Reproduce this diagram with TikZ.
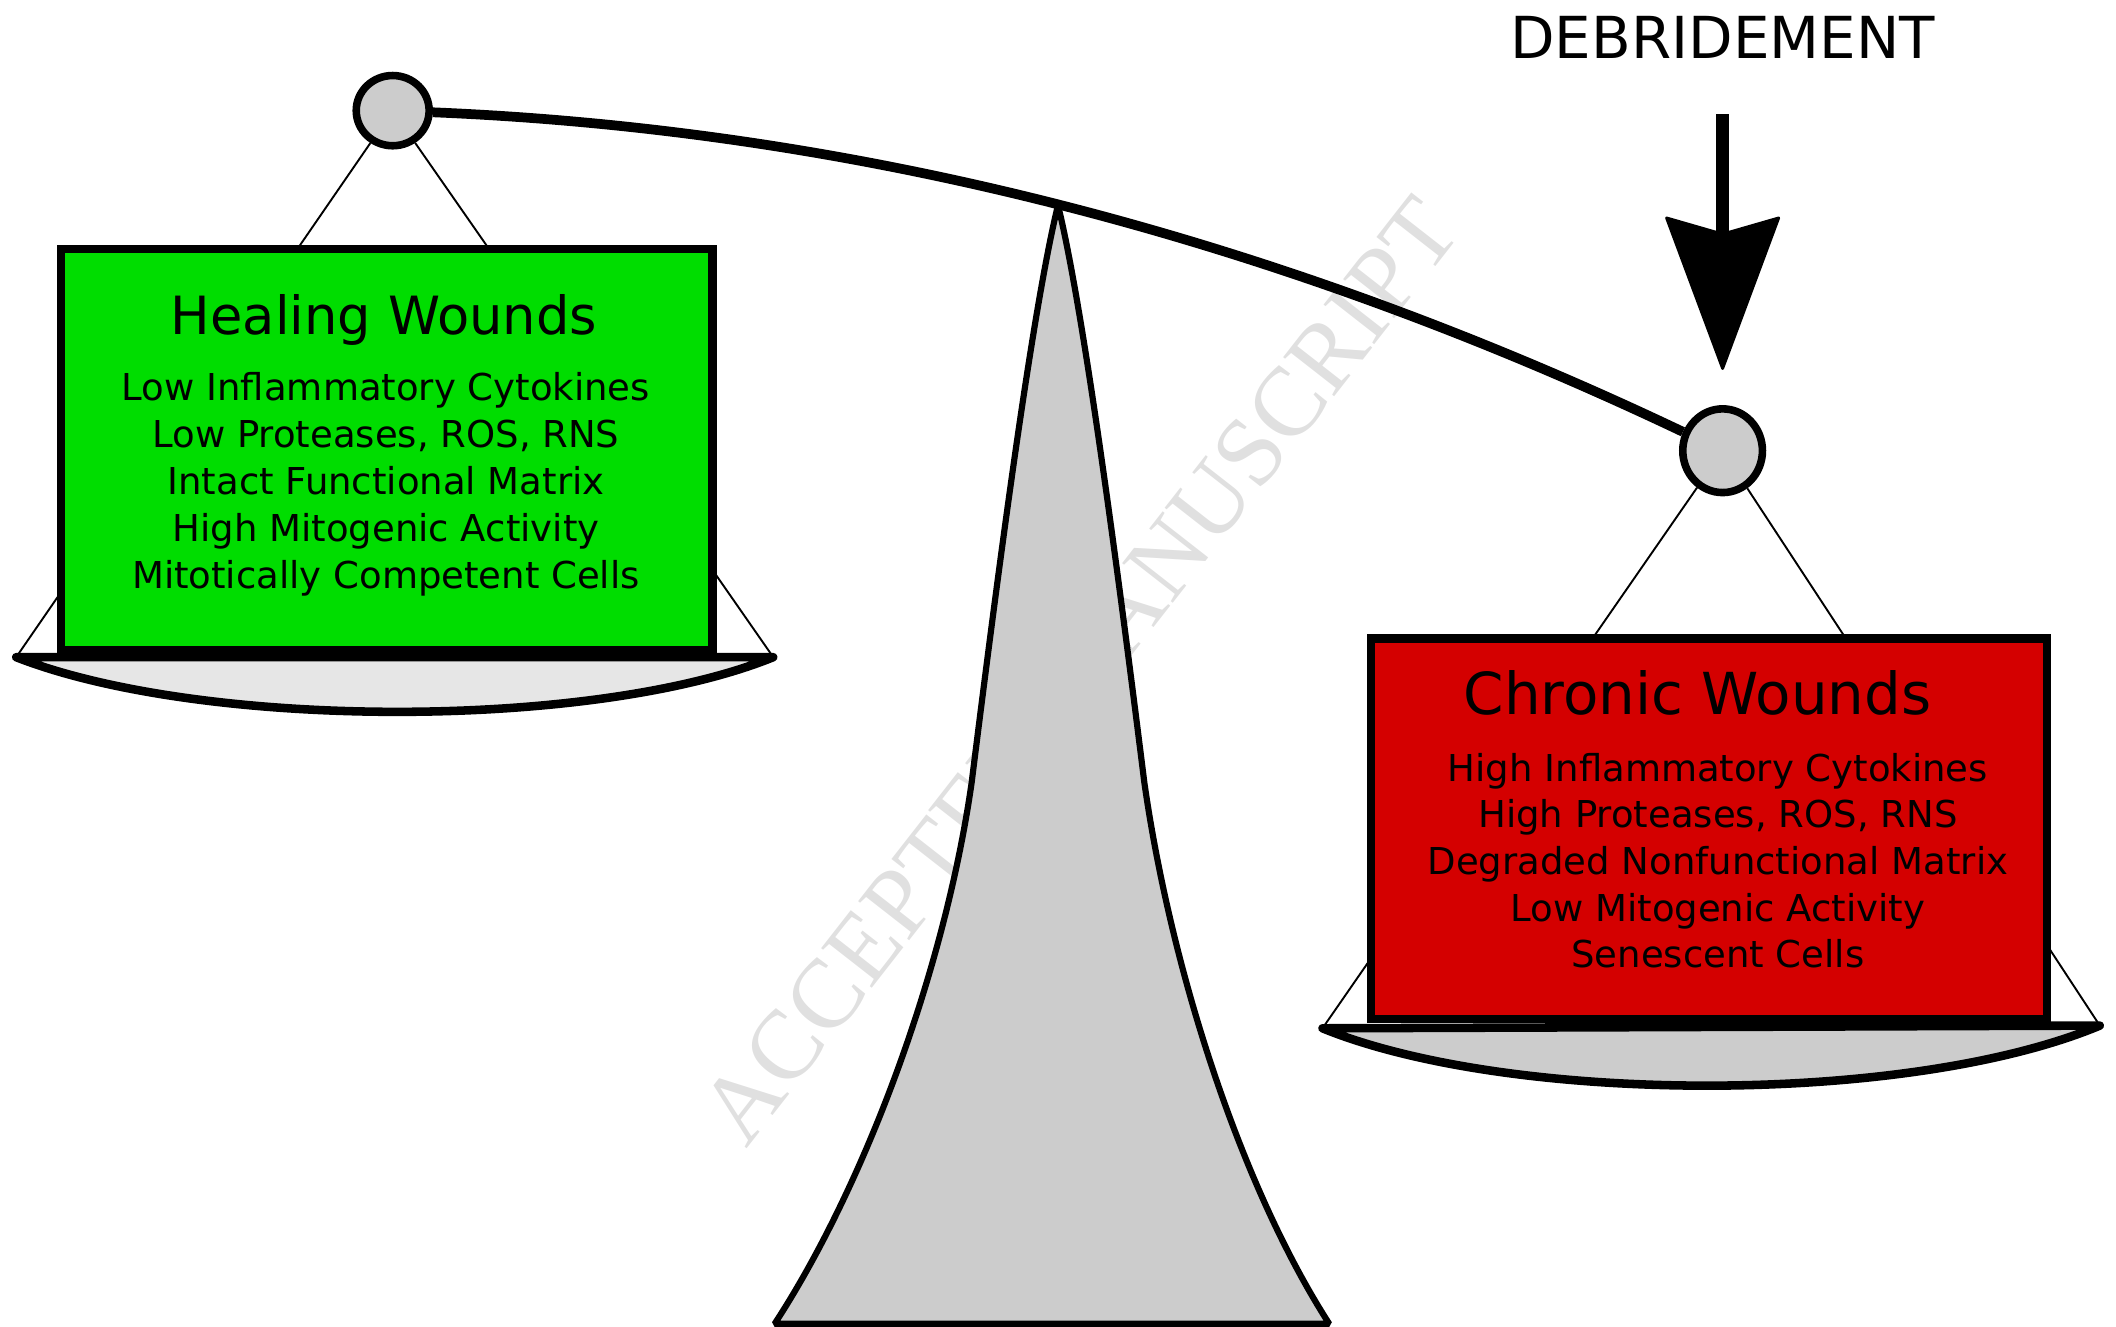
\documentclass[tikz,border=0pt]{standalone}
\usepackage{fontspec}
\setmainfont{DejaVu Sans}
\newfontfamily\wmfont{Liberation Serif}
\usetikzlibrary{arrows.meta,shapes.geometric}
\definecolor{healgreen}{HTML}{00DD00}
\definecolor{chronred}{HTML}{D40000}
\definecolor{scalegray}{HTML}{CCCCCC}
\definecolor{pangray}{HTML}{E6E6E6}

\begin{document}
\begin{tikzpicture}[x=0.01cm,y=-0.01cm,
    hinge/.style={ellipse,draw,line width=1.6pt,fill=scalegray,inner sep=0pt},
    rope/.style={line width=0.4pt},
    pan/.style={line width=1.8pt,line join=round},
    entry/.style={anchor=base,font=\fontsize{7.8}{9}\selectfont},
    boxtitle/.style={anchor=base,font=\fontsize{11.1}{13}\selectfont}]
  \useasboundingbox (0,0) rectangle (1568,983);
  \node[rotate=52,text=black!12,font=\wmfont\fontsize{20.7}{21}\selectfont] (wm) at (800,497) {ACCEPTED MANUSCRIPT};
  \filldraw[fill=scalegray,line width=1.3pt,line join=bevel](574,981)..controls(640,880)and(700,720)..(720,580)
    ..controls(740,420)and(765,230)..(784,152)..controls(803,230)and(828,420)..(848,580)
    ..controls(868,720)and(920,880)..(985,981)--cycle;
  \node[hinge,minimum width=0.54cm,minimum height=0.52cm] (lhinge) at (291,82) {};
  \node[hinge,minimum width=0.59cm,minimum height=0.62cm] (rhinge) at (1276.5,334) {};
  \coordinate (lpanL) at (12,487);
  \coordinate (lpanR) at (573,487);
  \coordinate (rpanL) at (980,762);
  \coordinate (rpanR) at (1556,760);
  \filldraw[pan,fill=pangray](lpanL)--(lpanR)..controls(440,541)and(150,541)..(lpanL)--cycle;
  \filldraw[pan,fill=scalegray](rpanL)--(rpanR)..controls(1415,819)and(1120,819)..(rpanL)--cycle;
  \draw[rope](lhinge)--(lpanL)(lhinge)--(lpanR)(rhinge)--(rpanL)(rhinge)--(rpanR);
  \draw[line width=1.75pt,fill=healgreen](45.1,184.7)rectangle(527.9,481.9);
  \draw[line width=1.75pt,fill=chronred](1016.1,473.1)rectangle(1516.9,754.9);
  \node[boxtitle] (healtitle) at (284.5,248) {Healing Wounds};
  \foreach \t [count=\i] in {Low Inflammatory Cytokines,{Low Proteases, ROS, RNS},Intact Functional Matrix,High Mitogenic Activity,Mitotically Competent Cells}
    \node[entry] (heal\i) at (286,{297+34.7*(\i-1)}) {\t};
  \node[boxtitle,font=\fontsize{12.2}{14}\selectfont] (chrontitle) at (1258,529.6) {Chronic Wounds};
  \foreach \t [count=\i] in {High Inflammatory Cytokines,{High Proteases, ROS, RNS},Degraded Nonfunctional Matrix,Low Mitogenic Activity,Senescent Cells}
    \node[entry] (chron\i) at (1273,{579+34.5*(\i-1)}) {\t};
  \node[anchor=base,inner sep=0pt,font=\fontsize{12.2}{14}\selectfont] (debr) at (1276.5,43) {DEBRIDEMENT};
  \draw[line width=2.05pt](lhinge)..controls(630,96)and(940,174)..(rhinge);
  \draw[line width=2.7pt,-{Stealth[length=33pt,width=24.5pt,inset=3.5pt,line width=0.6pt,round]},
    shorten <=0.41cm,shorten >=0.26cm](debr)--(rhinge);
\end{tikzpicture}
\end{document}
